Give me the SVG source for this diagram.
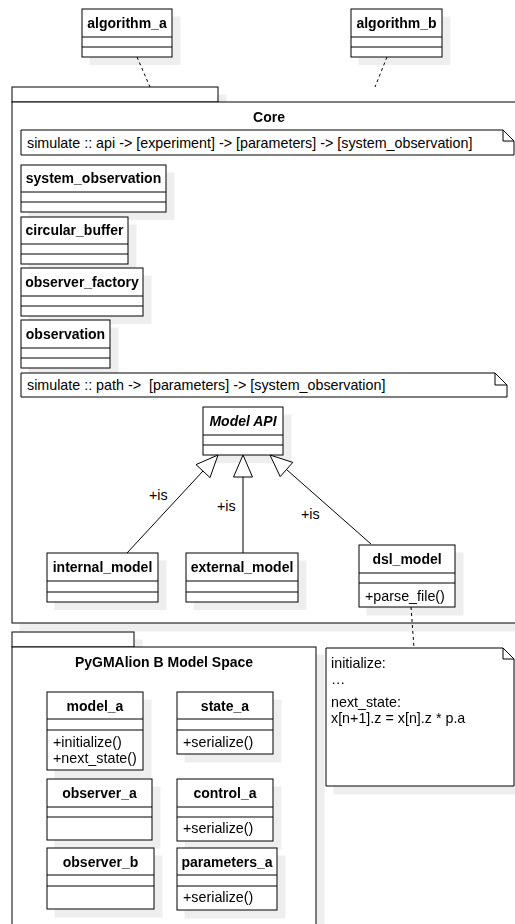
<svg xmlns="http://www.w3.org/2000/svg" width="515" height="924" viewBox="0 0 515 924">
<style>
text{font-family:"Liberation Sans",Arial,sans-serif;font-size:14.3px;fill:#000}
.b{font-weight:bold;font-size:14px;text-anchor:middle}
.bi{font-weight:bold;font-size:14px;font-style:italic;text-anchor:middle}
.box{fill:#fff;stroke:#000;stroke-width:1}
.ln{fill:none;stroke:#000;stroke-width:1}
.dash{fill:none;stroke:#000;stroke-width:1;stroke-dasharray:3 3}
.tri{fill:#fff;stroke:#000;stroke-width:1}
</style>
<defs>
<filter id="sh" x="-5%" y="-5%" width="120%" height="120%">
<feOffset in="SourceAlpha" dx="8" dy="8" result="o"/>
<feFlood flood-color="#000" flood-opacity="0.065"/>
<feComposite in2="o" operator="in"/>
<feMerge><feMergeNode/><feMergeNode in="SourceGraphic"/></feMerge>
</filter>
</defs>
<rect width="515" height="924" fill="#fff"/>

<g id="algorithm_a" filter="url(#sh)"><rect class="box" x="82" y="9" width="90" height="48"/><path class="ln" d="M82 37H172M82 47H172"/><text class="b" x="127" y="28">algorithm_a</text></g>
<g id="algorithm_b" filter="url(#sh)"><rect class="box" x="351" y="9" width="91" height="48"/><path class="ln" d="M351 37H442M351 47H442"/><text class="b" x="396.5" y="28">algorithm_b</text></g>

<g id="core" filter="url(#sh)"><rect class="box" x="12" y="87" width="206" height="15"/><rect class="box" x="12" y="102" width="514" height="521"/><text class="b" x="269" y="122">Core</text></g>

<g id="note_api"><path class="box" d="M21 130H503L514 141V155H21Z"/><path class="ln" d="M503 130V141H514"/><text x="27" y="148">simulate :: api -&gt; [experiment] -&gt; [parameters] -&gt; [system_observation]</text></g>

<g id="system_observation" filter="url(#sh)"><rect class="box" x="21" y="165" width="145" height="47"/><path class="ln" d="M21 192H166M21 202H166"/><text class="b" x="93.5" y="183">system_observation</text></g>
<g id="circular_buffer" filter="url(#sh)"><rect class="box" x="21" y="217" width="107" height="47"/><path class="ln" d="M21 244H128M21 254H128"/><text class="b" x="74.5" y="235">circular_buffer</text></g>
<g id="observer_factory" filter="url(#sh)"><rect class="box" x="21" y="268" width="122" height="48"/><path class="ln" d="M21 296H143M21 306H143"/><text class="b" x="82" y="287">observer_factory</text></g>
<g id="observation" filter="url(#sh)"><rect class="box" x="21" y="320" width="89" height="48"/><path class="ln" d="M21 348H110M21 358H110"/><text class="b" x="65.5" y="339">observation</text></g>

<g id="note_path"><path class="box" d="M21 373H495L507 385V397H21Z"/><path class="ln" d="M495 373V385H507"/><text x="27" y="390" xml:space="preserve">simulate :: path -&gt;  [parameters] -&gt; [system_observation]</text></g>

<g id="model_api" filter="url(#sh)"><rect class="box" x="203" y="407" width="80" height="48"/><path class="ln" d="M203 435H283M203 445H283"/><text class="bi" x="243" y="426">Model API</text></g>

<g id="internal_model" filter="url(#sh)"><rect class="box" x="47" y="553" width="111" height="49"/><path class="ln" d="M47 581H158M47 592H158"/><text class="b" x="102.5" y="572">internal_model</text></g>
<g id="external_model" filter="url(#sh)"><rect class="box" x="186" y="553" width="112" height="49"/><path class="ln" d="M186 581H298M186 592H298"/><text class="b" x="242" y="572">external_model</text></g>
<g id="dsl_model" filter="url(#sh)"><rect class="box" x="359" y="545" width="96" height="62"/><path class="ln" d="M359 573H455M359 583H455"/><text class="b" x="407" y="564">dsl_model</text><text x="365" y="601">+parse_file()</text></g>

<g id="model_space" filter="url(#sh)"><rect class="box" x="12" y="632" width="122" height="15"/><rect class="box" x="12" y="647" width="304" height="300"/><text class="b" x="164" y="667">PyGMAlion B Model Space</text></g>

<g id="note_dsl" filter="url(#sh)"><path class="box" d="M326 648H503L514 659V786H326Z"/><path class="ln" d="M503 648V659H514"/><text x="331" y="668">initialize:</text><text x="331" y="684">…</text><text x="331" y="707">next_state:</text><text x="331" y="723">x[n+1].z = x[n].z * p.a</text></g>

<g id="model_a" filter="url(#sh)"><rect class="box" x="47" y="692" width="96" height="78"/><path class="ln" d="M47 719H143M47 730H143"/><text class="b" x="95" y="711">model_a</text><text x="53" y="747">+initialize()</text><text x="53" y="763">+next_state()</text></g>
<g id="state_a" filter="url(#sh)"><rect class="box" x="177" y="692" width="96" height="62"/><path class="ln" d="M177 719H273M177 730H273"/><text class="b" x="225" y="711">state_a</text><text x="183" y="747">+serialize()</text></g>
<g id="observer_a" filter="url(#sh)"><rect class="box" x="47" y="779" width="105" height="61"/><path class="ln" d="M47 807H152M47 817H152"/><text class="b" x="99.5" y="798">observer_a</text></g>
<g id="control_a" filter="url(#sh)"><rect class="box" x="177" y="779" width="96" height="62"/><path class="ln" d="M177 807H273M177 817H273"/><text class="b" x="225" y="798">control_a</text><text x="183" y="833">+serialize()</text></g>
<g id="observer_b" filter="url(#sh)"><rect class="box" x="47" y="848" width="107" height="61"/><path class="ln" d="M47 875H154M47 886H154"/><text class="b" x="100.5" y="867">observer_b</text></g>
<g id="parameters_a" filter="url(#sh)"><rect class="box" x="177" y="848" width="100" height="62"/><path class="ln" d="M177 875H277M177 886H277"/><text class="b" x="227" y="867">parameters_a</text><text x="183" y="902">+serialize()</text></g>

<g id="connectors">
<path class="dash" d="M137 57L150 87"/>
<path class="dash" d="M387 57L375 87"/>
<path class="dash" d="M411 607L414 648"/>
<path class="ln" d="M127 553L203 471"/>
<path class="tri" d="M218 455L210 477.6L196 464.6Z"/>
<path class="ln" d="M243 553V477"/>
<path class="tri" d="M243 455L252.5 477H233.5Z"/>
<path class="ln" d="M371 544L286.5 469.5"/>
<path class="tri" d="M270 455L280.2 476.6L292.8 462.4Z"/>
<text x="149" y="500">+is</text>
<text x="217" y="511">+is</text>
<text x="301" y="519">+is</text>
</g>
</svg>
